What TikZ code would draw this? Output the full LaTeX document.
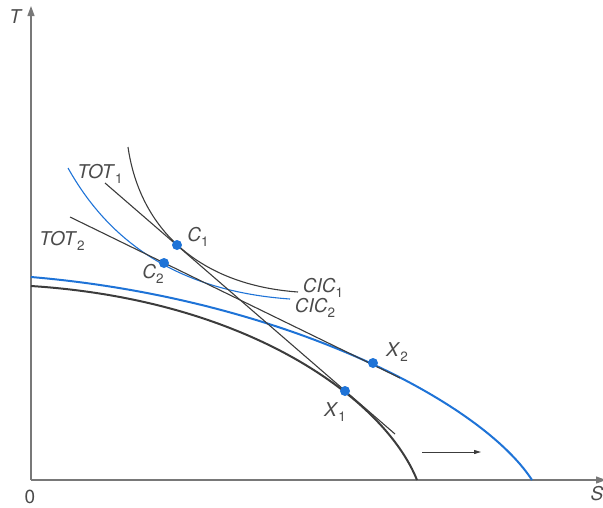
\documentclass[tikz,border=0pt]{standalone}
\usepackage{fontspec}
\setmainfont{TeX Gyre Heros}
\usetikzlibrary{arrows.meta}
\definecolor{ppfblue}{RGB}{30,115,215}
\definecolor{darkline}{RGB}{60,60,60}
\definecolor{axisgray}{RGB}{120,120,120}
\definecolor{txtgray}{RGB}{75,75,75}
\newcommand{\lab}[2]{\textit{#1}\raisebox{-0.45ex}{\fontsize{13.5}{14}\selectfont #2}}
\tikzset{
  axisline/.style={draw=axisgray, line width=1.2pt, -{Triangle[length=10pt,width=7pt]}},
  ppfblack/.style={draw=darkline, line width=2pt},
  ppfblu/.style={draw=ppfblue, line width=2pt},
  thinblack/.style={draw=darkline, line width=1.1pt},
  thinblue/.style={draw=ppfblue, line width=1.1pt},
  dotpt/.style={circle, fill=ppfblue, inner sep=0pt, minimum size=10pt},
  labtxt/.style={text=txtgray, font=\fontsize{19}{21}\selectfont, inner sep=0pt},
  shiftarrow/.style={draw=darkline, line width=0.9pt, -{Triangle[length=7pt,width=4pt]}}
}
\begin{document}
\begin{tikzpicture}[x=1pt,y=-1pt]
\useasboundingbox (0,0) rectangle (603,507);
% axes
\coordinate (O) at (31,480);
\coordinate (Ytip) at (31,6);
\coordinate (Xtip) at (606,480);
\draw[axisline] (O) -- (Ytip);
\draw[axisline] (O) -- (Xtip);
\node[labtxt] (Tlab) at (16,17) {\textit{T}};
\node[labtxt] (Olab) at (30,497) {0};
\node[labtxt] (Slab) at (597,494) {\textit{S}};
% PPFs
\coordinate (B0) at (31,286);
\coordinate (B3) at (417,480);
\draw[ppfblack] (B0) .. controls (250,300) and (385,400) .. (B3);
\coordinate (L0) at (31,277);
\coordinate (L3) at (532,480);
\draw[ppfblu] (L0) .. controls (280,298) and (480,400) .. (L3);
% CICs
\coordinate (CA0) at (128,147);
\coordinate (CA3) at (298,292);
\draw[thinblack] (CA0) .. controls (140,230) and (200,285) .. (CA3);
\coordinate (CB0) at (68,168);
\coordinate (CB3) at (290,299);
\draw[thinblue] (CB0) .. controls (100,225) and (160,290) .. (CB3);
% TOT lines
\coordinate (TA0) at (105,183);
\coordinate (TA1) at (395,434);
\draw[thinblack] (TA0) -- (TA1);
\coordinate (TB0) at (70,217);
\coordinate (TB1) at (400,378);
\draw[thinblack] (TB0) -- (TB1);
% points
\node[dotpt] (C1) at (177,245) {};
\node[dotpt] (C2) at (164,263) {};
\node[dotpt] (X1) at (345,391) {};
\node[dotpt] (X2) at (373,363) {};
% labels
\node[labtxt] (TOT1) at (100,174) {\lab{TOT}{1}};
\node[labtxt] (TOT2) at (62,241) {\lab{TOT}{2}};
\node[labtxt] (C1lab) at (198,237) {\lab{C}{1}};
\node[labtxt] (C2lab) at (153,274) {\lab{C}{2}};
\node[labtxt] (CIC1) at (323,288) {\lab{CIC}{1}};
\node[labtxt] (CIC2) at (315,308) {\lab{CIC}{2}};
\node[labtxt] (X2lab) at (397,352) {\lab{X}{2}};
\node[labtxt] (X1lab) at (335,412) {\lab{X}{1}};
% shift arrow
\coordinate (A0) at (422,452);
\coordinate (A1) at (481,452);
\draw[shiftarrow] (A0) -- (A1);
\end{tikzpicture}
\end{document}
